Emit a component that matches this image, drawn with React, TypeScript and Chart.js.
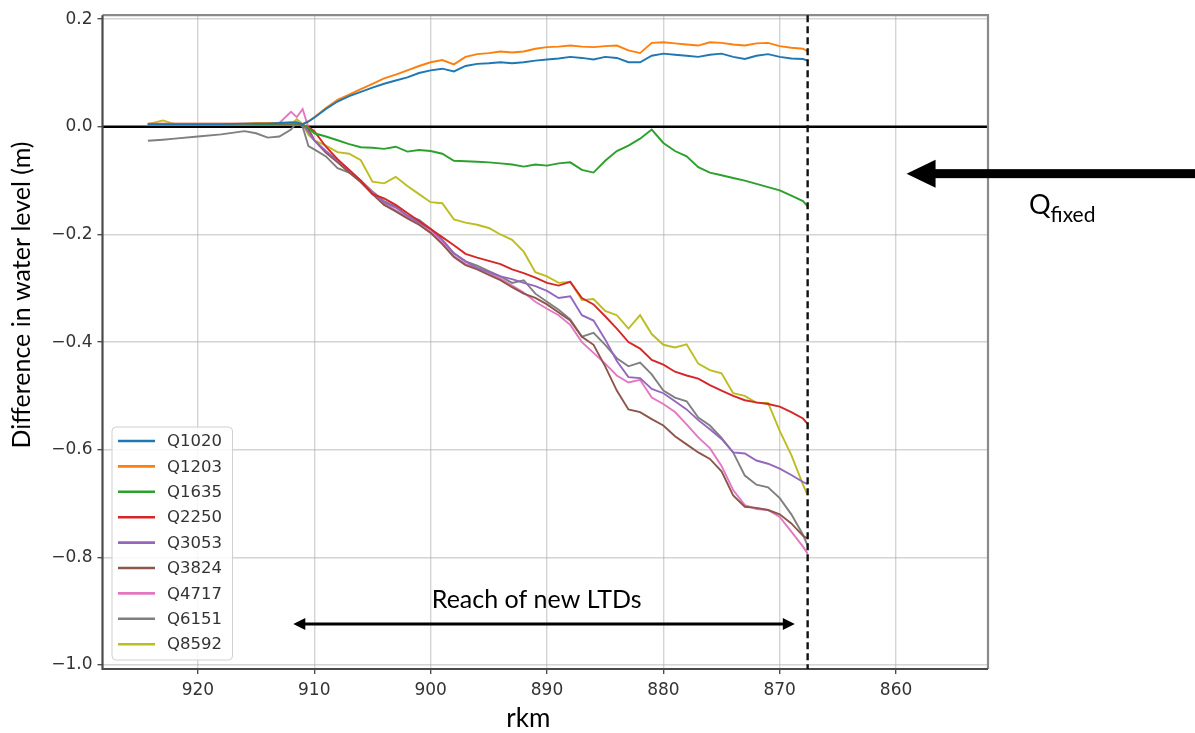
import React, { useEffect, useRef } from 'react';
import { Chart, registerables } from 'chart.js';

Chart.register(...registerables);

// River kilometre positions (shared by all series)
const rkm = [
  924.3, 923, 922, 920, 918, 916, 915, 914, 913, 912, 911.5,
  911, 910.5, 910, 909, 908, 907, 906, 905, 904, 903,
  902, 901, 900, 899, 898, 897, 896, 895, 894, 893,
  892, 891, 890, 889, 888, 887, 886, 885, 884, 883,
  882, 881, 880, 879, 878, 877, 876, 875, 874, 873,
  872, 871, 870, 869, 868, 867.6,
];

const q1020 = [
  0.005, 0.005, 0.005, 0.005, 0.005, 0.006, 0.006, 0.006, 0.007, 0.008, 0.008,
  0.005, 0.01, 0.017, 0.033, 0.047, 0.057, 0.065, 0.073, 0.08, 0.086,
  0.092, 0.1, 0.105, 0.108, 0.103, 0.113, 0.117, 0.118, 0.12, 0.118,
  0.12, 0.123, 0.125, 0.127, 0.13, 0.128, 0.125, 0.13, 0.128, 0.12,
  0.12, 0.132, 0.136, 0.134, 0.132, 0.13, 0.134, 0.136, 0.13, 0.126,
  0.132, 0.135, 0.13, 0.127, 0.126, 0.123,
];
const q1203 = [
  0.006, 0.006, 0.006, 0.006, 0.006, 0.006, 0.007, 0.007, 0.007, 0.008, 0.008,
  0.005, 0.01, 0.018, 0.035, 0.05, 0.06, 0.07, 0.08, 0.09, 0.097,
  0.105, 0.113, 0.12, 0.124, 0.116, 0.13, 0.135, 0.137, 0.14, 0.138,
  0.14, 0.145, 0.148, 0.149, 0.151, 0.149, 0.148, 0.15, 0.151, 0.142,
  0.137, 0.156, 0.157, 0.155, 0.153, 0.151, 0.157, 0.156, 0.153, 0.151,
  0.155, 0.156, 0.15, 0.147, 0.145, 0.14,
];
const q1635 = [
  0.005, 0.005, 0.005, 0.005, 0.005, 0.005, 0.005, 0.005, 0.006, 0.006, 0.006,
  0.005, -0.002, -0.012, -0.018, -0.025, -0.032, -0.038, -0.039, -0.041, -0.037,
  -0.046, -0.043, -0.045, -0.05, -0.063, -0.064, -0.065, -0.066, -0.068, -0.07,
  -0.074, -0.07, -0.072, -0.068, -0.066, -0.08, -0.085, -0.063, -0.045, -0.035,
  -0.022, -0.005, -0.03, -0.045, -0.055, -0.075, -0.085, -0.09, -0.095, -0.1,
  -0.106, -0.112, -0.118, -0.128, -0.138, -0.148,
];
const q2250 = [
  0.005, 0.005, 0.005, 0.005, 0.005, 0.005, 0.005, 0.005, 0.006, 0.006, 0.006,
  0.003, 0.0, -0.008, -0.037, -0.06, -0.08, -0.1, -0.125, -0.133, -0.145,
  -0.16, -0.175, -0.19, -0.205, -0.22, -0.236, -0.243, -0.249, -0.255, -0.265,
  -0.272, -0.28, -0.29, -0.295, -0.288, -0.318, -0.33, -0.352, -0.375, -0.4,
  -0.412, -0.433, -0.442, -0.455, -0.462, -0.468, -0.48, -0.49, -0.5, -0.508,
  -0.512, -0.515, -0.52, -0.53, -0.542, -0.552,
];
const q3053 = [
  0.005, 0.005, 0.005, 0.005, 0.005, 0.005, 0.005, 0.005, 0.006, 0.006, 0.006,
  0.005, -0.01, -0.025, -0.045, -0.062, -0.08, -0.1, -0.122, -0.14, -0.15,
  -0.165, -0.178, -0.19, -0.21, -0.235, -0.25, -0.262, -0.27, -0.278, -0.283,
  -0.29, -0.296, -0.305, -0.318, -0.315, -0.35, -0.36, -0.395, -0.435, -0.465,
  -0.467, -0.487, -0.495, -0.51, -0.525, -0.545, -0.562, -0.58, -0.605, -0.607,
  -0.62, -0.626, -0.635, -0.647, -0.66, -0.664,
];
const q3824 = [
  0.005, 0.005, 0.005, 0.005, 0.005, 0.005, 0.005, 0.005, 0.006, 0.006, 0.006,
  0.005, -0.005, -0.025, -0.048, -0.066, -0.085, -0.103, -0.125, -0.145, -0.157,
  -0.17, -0.182, -0.197, -0.218, -0.242, -0.257, -0.265, -0.275, -0.285, -0.298,
  -0.31, -0.318, -0.33, -0.345, -0.36, -0.39, -0.405, -0.445, -0.49, -0.525,
  -0.53, -0.543, -0.555, -0.575, -0.59, -0.605, -0.617, -0.64, -0.685, -0.706,
  -0.708, -0.712, -0.72, -0.737, -0.76, -0.765,
];
const q4717 = [
  0.006, 0.006, 0.006, 0.006, 0.006, 0.006, 0.006, 0.006, 0.007, 0.028, 0.018,
  0.033, -0.002, -0.025, -0.048, -0.065, -0.083, -0.1, -0.122, -0.142, -0.155,
  -0.168, -0.18, -0.195, -0.215, -0.24, -0.255, -0.262, -0.272, -0.282, -0.295,
  -0.308, -0.325, -0.338, -0.35, -0.368, -0.4, -0.42, -0.44, -0.462, -0.475,
  -0.47, -0.503, -0.515, -0.53, -0.553, -0.577, -0.597, -0.63, -0.675, -0.703,
  -0.71, -0.712, -0.725, -0.752, -0.78, -0.793,
];
const q6151 = [
  -0.026, -0.024, -0.022, -0.018, -0.014, -0.008, -0.012, -0.02, -0.018, -0.005, 0.008,
  0.0, -0.036, -0.042, -0.055, -0.077, -0.085, -0.1, -0.12, -0.138, -0.148,
  -0.165, -0.173, -0.19, -0.21, -0.235, -0.25, -0.258, -0.268, -0.278, -0.29,
  -0.285, -0.31, -0.325, -0.34, -0.358, -0.39, -0.383, -0.405, -0.43, -0.445,
  -0.438, -0.46, -0.49, -0.503, -0.51, -0.54, -0.555, -0.578, -0.605, -0.648,
  -0.665, -0.67, -0.69, -0.72, -0.758, -0.778,
];
const q8592 = [
  0.005, 0.012, 0.005, 0.005, 0.005, 0.005, 0.005, 0.005, 0.006, 0.005, 0.014,
  0.005, -0.015, -0.025, -0.035, -0.047, -0.05, -0.062, -0.102, -0.105, -0.093,
  -0.11, -0.125, -0.14, -0.142, -0.172, -0.178, -0.182, -0.188, -0.2, -0.21,
  -0.232, -0.27, -0.278, -0.29, -0.288, -0.322, -0.32, -0.342, -0.35, -0.375,
  -0.35, -0.385, -0.405, -0.41, -0.404, -0.44, -0.452, -0.458, -0.495, -0.5,
  -0.513, -0.513, -0.565, -0.61, -0.665, -0.685,
];

const seriesLabels = ['Q1020', 'Q1203', 'Q1635', 'Q2250', 'Q3053', 'Q3824', 'Q4717', 'Q6151', 'Q8592'];
const seriesValues = [q1020, q1203, q1635, q2250, q3053, q3824, q4717, q6151, q8592];
const seriesColors = ['#1f77b4', '#ff7f0e', '#2ca02c', '#d62728', '#9467bd', '#8c564b', '#e377c2', '#7f7f7f', '#bcbd22'];

const xTicks = [920, 910, 900, 890, 880, 870, 860];
const yTicks = [-1.0, -0.8, -0.6, -0.4, -0.2, 0.0, 0.2];
const X_MIN = 852.1;
const X_MAX = 928.2;
const Y_MIN = -1.0074;
const Y_MAX = 0.2074;

// annotation anchors (data units)
const LTD_END_RKM = 867.6;
const REACH_FROM = 911.8;
const REACH_TO = 868.7;
const REACH_Y = -0.924;
const QFIXED_TIP_RKM = 859.1;
const QFIXED_Y = -0.087;
const XLABEL_RKM = 891.6;

const fmtY = (v: number) => (v < -1e-9 ? '\u2212' : '') + Math.abs(v).toFixed(1);

const annotPlugin = {
  id: 'annot',
  beforeDatasetsDraw(chart: any) {
    const { ctx, chartArea: a, scales } = chart;
    const y0 = scales.y.getPixelForValue(0);
    ctx.save();
    ctx.strokeStyle = '#000';
    ctx.lineWidth = 2.6;
    ctx.beginPath();
    ctx.moveTo(a.left, y0);
    ctx.lineTo(a.right, y0);
    ctx.stroke();
    ctx.restore();
  },
  afterDatasetsDraw(chart: any) {
    const { ctx, chartArea: a, scales } = chart;
    const { x, y } = scales;
    ctx.save();
    // frame
    ctx.lineWidth = 2.2;
    ctx.strokeStyle = '#8a8a8a';
    ctx.beginPath();
    ctx.moveTo(a.left, a.top);
    ctx.lineTo(a.right, a.top);
    ctx.lineTo(a.right, a.bottom);
    ctx.stroke();
    ctx.strokeStyle = '#4a4a4a';
    ctx.beginPath();
    ctx.moveTo(a.left, a.top);
    ctx.lineTo(a.left, a.bottom);
    ctx.lineTo(a.right, a.bottom);
    ctx.stroke();

    // dashed vertical line
    const xd = x.getPixelForValue(LTD_END_RKM);
    ctx.strokeStyle = '#111';
    ctx.lineWidth = 2.4;
    ctx.setLineDash([7, 4]);
    ctx.beginPath();
    ctx.moveTo(xd, a.top);
    ctx.lineTo(xd, a.bottom);
    ctx.stroke();
    ctx.setLineDash([]);

    // legend
    const bx = a.left + 9.5, bw = 120.5, bh = 233;
    const by = a.bottom - 9 - bh;
    ctx.fillStyle = 'rgba(255,255,255,0.85)';
    ctx.strokeStyle = '#d0d0d0';
    ctx.lineWidth = 1;
    ctx.beginPath();
    if (ctx.roundRect) ctx.roundRect(bx, by, bw, bh, 4); else ctx.rect(bx, by, bw, bh);
    ctx.fill();
    ctx.stroke();
    ctx.font = '16.5px "DejaVu Sans"';
    ctx.textBaseline = 'middle';
    ctx.textAlign = 'left';
    chart.data.datasets.forEach((ds: any, i: number) => {
      const ry = by + 14 + 25.4 * i;
      ctx.strokeStyle = ds.borderColor;
      ctx.lineWidth = 2.6;
      ctx.beginPath();
      ctx.moveTo(bx + 6, ry);
      ctx.lineTo(bx + 43, ry);
      ctx.stroke();
      ctx.fillStyle = '#333';
      ctx.fillText(ds.label, bx + 55, ry + 1);
    });

    // double arrow (Reach of new LTDs)
    const ya = y.getPixelForValue(REACH_Y);
    const xl = x.getPixelForValue(REACH_FROM);
    const xr = x.getPixelForValue(REACH_TO);
    ctx.strokeStyle = '#000';
    ctx.fillStyle = '#000';
    ctx.lineWidth = 3;
    ctx.beginPath();
    ctx.moveTo(xl + 8, ya);
    ctx.lineTo(xr - 8, ya);
    ctx.stroke();
    ctx.beginPath();
    ctx.moveTo(xl, ya); ctx.lineTo(xl + 12, ya - 6); ctx.lineTo(xl + 12, ya + 6); ctx.closePath();
    ctx.fill();
    ctx.beginPath();
    ctx.moveTo(xr, ya); ctx.lineTo(xr - 12, ya - 6); ctx.lineTo(xr - 12, ya + 6); ctx.closePath();
    ctx.fill();
    ctx.font = '25px Lato';
    ctx.textBaseline = 'alphabetic';
    ctx.fillStyle = '#000';
    ctx.fillText('Reach of new LTDs', x.getPixelForValue(899.9), ya - 16);
    ctx.restore();
  },
  afterDraw(chart: any) {
    const { ctx, chartArea: a, scales, width } = chart;
    const { x, y } = scales;
    ctx.save();
    // big Q_fixed arrow
    const ty = y.getPixelForValue(QFIXED_Y);
    const tx = x.getPixelForValue(QFIXED_TIP_RKM);
    ctx.fillStyle = '#000';
    ctx.fillRect(tx + 26, ty - 4.5, width - tx - 26, 9);
    ctx.beginPath();
    ctx.moveTo(tx, ty);
    ctx.lineTo(tx + 29, ty - 14);
    ctx.lineTo(tx + 29, ty + 14);
    ctx.closePath();
    ctx.fill();
    // Q_fixed text
    ctx.textBaseline = 'alphabetic';
    ctx.textAlign = 'left';
    ctx.font = '27px Lato';
    const qx = a.right + 41;
    ctx.fillText('Q', qx, ty + 40);
    const qw = ctx.measureText('Q').width;
    ctx.font = '21px Lato';
    ctx.fillText('fixed', qx + qw, ty + 48);

    // axis titles
    ctx.font = '26px Lato';
    ctx.textAlign = 'center';
    ctx.fillText('rkm', x.getPixelForValue(XLABEL_RKM), 727);
    ctx.translate(22, 295);
    ctx.rotate(-Math.PI / 2);
    ctx.textBaseline = 'middle';
    ctx.font = '25px Lato';
    ctx.fillText('Difference in water level (m)', 0, 0);
    ctx.restore();
  },
};

export default function App() {
  const ref = useRef<HTMLCanvasElement | null>(null);
  useEffect(() => {
    if (!ref.current) return;
    const datasets = seriesLabels.map((label, i) => ({
      label,
      data: rkm.map((r, j) => ({ x: r, y: seriesValues[i][j] })),
      borderColor: seriesColors[i],
      backgroundColor: seriesColors[i],
      borderWidth: 1.9,
      pointRadius: 0,
      tension: 0,
      fill: false,
    }));
    const gridColor = 'rgba(170,170,170,0.5)';
    const chart = new Chart(ref.current, {
      type: 'line',
      data: { datasets },
      plugins: [annotPlugin],
      options: {
        responsive: false,
        animation: false,
        devicePixelRatio: 1,
        layout: { padding: { left: 0, right: 207, top: 13, bottom: 0 } },
        plugins: { legend: { display: false }, tooltip: { enabled: false } },
        scales: {
          x: {
            type: 'linear',
            reverse: true,
            min: X_MIN,
            max: X_MAX,
            afterBuildTicks: (s: any) => { s.ticks = xTicks.map((v) => ({ value: v })); },
            afterFit: (s: any) => { s.height = 64; },
            grid: { color: gridColor, lineWidth: 1.4, tickColor: '#444', tickLength: 5, tickWidth: 1.3 },
            border: { display: false },
            ticks: {
              color: '#333',
              font: { family: 'DejaVu Sans', size: 17 },
              padding: 6,
              maxRotation: 0,
              autoSkip: false,
              callback: (v: any) => String(v),
            },
          },
          y: {
            type: 'linear',
            min: Y_MIN,
            max: Y_MAX,
            afterBuildTicks: (s: any) => { s.ticks = yTicks.map((v) => ({ value: v })); },
            afterFit: (s: any) => { s.width = 102.5; },
            grid: { color: gridColor, lineWidth: 1.4, tickColor: '#444', tickLength: 5, tickWidth: 1.3 },
            border: { display: false },
            ticks: {
              color: '#333',
              font: { family: 'DejaVu Sans', size: 17 },
              padding: 5,
              autoSkip: false,
              callback: (v: any) => fmtY(Number(v)),
            },
          },
        },
      },
    } as any);
    return () => chart.destroy();
  }, []);
  return (
    <div style={{ position: 'absolute', left: 0, top: 0, width: 1195, height: 733, background: '#fff' }}>
      <canvas ref={ref} width={1195} height={733} style={{ display: 'block', width: 1195, height: 733 }} />
    </div>
  );
}
